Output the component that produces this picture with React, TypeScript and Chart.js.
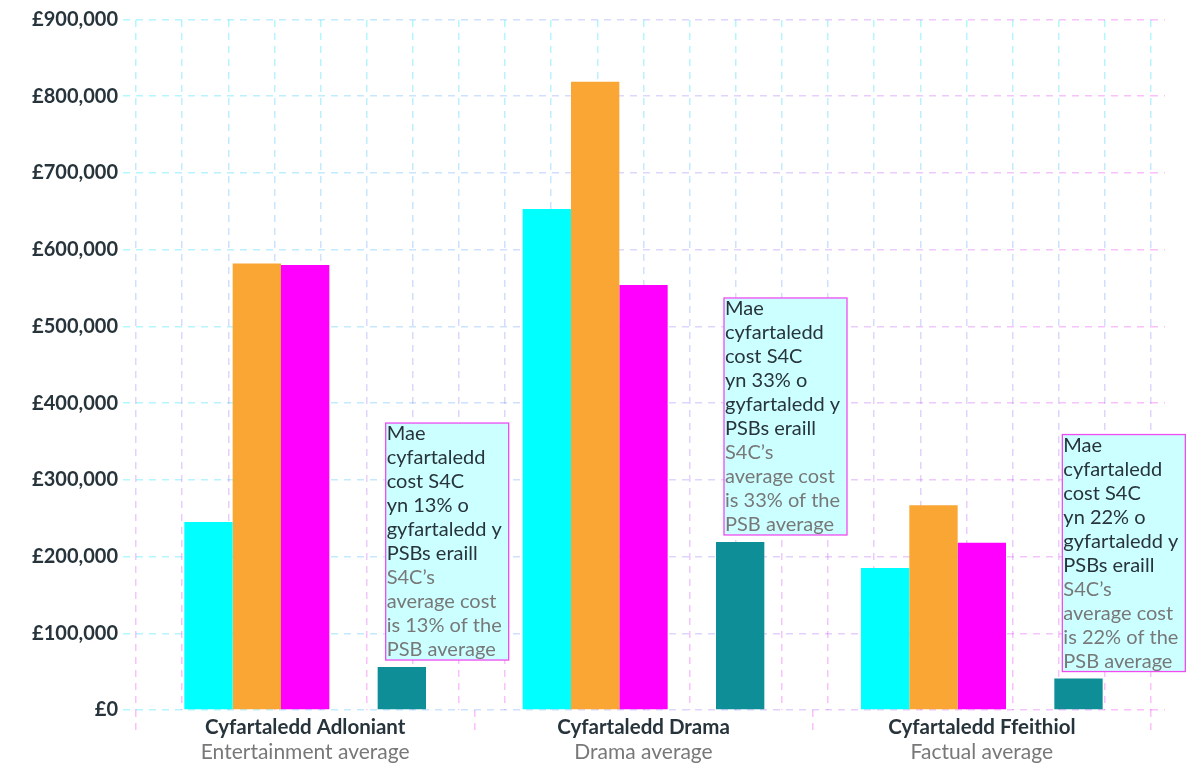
import React, { useEffect, useRef } from 'react';
import { Chart, registerables } from 'chart.js';

Chart.register(...registerables);

// ---- data ----
const categoriesCy = ['Cyfartaledd Adloniant', 'Cyfartaledd Drama', 'Cyfartaledd Ffeithiol'];
const categoriesEn = ['Entertainment average', 'Drama average', 'Factual average'];
const seriesLabels = ['PSB 1', 'PSB 2', 'PSB 3', '', 'S4C'];
const valuesCyan = [245000, 653000, 185000];
const valuesOrange = [582000, 819000, 267000];
const valuesMagenta = [580000, 554000, 218000];
const valuesSpacer = [null, null, null];
const valuesTeal = [56000, 219000, 41000];
const yMin = 0;
const yMax = 900000;
const yStep = 100000;
const notesCy = [
  ['Mae', 'cyfartaledd', 'cost S4C', 'yn 13% o', 'gyfartaledd y', 'PSBs eraill'],
  ['Mae', 'cyfartaledd', 'cost S4C', 'yn 33% o', 'gyfartaledd y', 'PSBs eraill'],
  ['Mae', 'cyfartaledd', 'cost S4C', 'yn 22% o', 'gyfartaledd y', 'PSBs eraill'],
];
const notesEn = [
  ['S4C\u2019s', 'average cost', 'is 13% of the', 'PSB average'],
  ['S4C\u2019s', 'average cost', 'is 33% of the', 'PSB average'],
  ['S4C\u2019s', 'average cost', 'is 22% of the', 'PSB average'],
];

// ---- styles ----
const FONT = 'Lato, "Open Sans", "DejaVu Sans", sans-serif';
const DARK = '#27343b';
const GREY = '#787878';
const CYAN_GRID = 'rgba(0,230,255,0.3)';
const MAGENTA_GRID = 'rgba(240,0,240,0.25)';
const DASH = [7, 6];

function hGrad(chart: any) {
  const a = chart.chartArea;
  if (!a) return CYAN_GRID;
  const g = chart.ctx.createLinearGradient(a.left, 0, a.right, 0);
  g.addColorStop(0, CYAN_GRID);
  g.addColorStop(1, MAGENTA_GRID);
  return g;
}
function vGrad(chart: any) {
  const a = chart.chartArea;
  if (!a) return CYAN_GRID;
  const g = chart.ctx.createLinearGradient(0, a.top, 0, a.bottom);
  g.addColorStop(0, CYAN_GRID);
  g.addColorStop(1, MAGENTA_GRID);
  return g;
}

const notePlugin = {
  id: 'notes',
  afterDatasetsDraw(chart: any) {
    const meta = chart.getDatasetMeta(4);
    const ctx = chart.ctx;
    meta.data.forEach((bar: any, i: number) => {
      const { x, y, width } = bar.getProps(['x', 'y', 'width'], true);
      const lines = [...notesCy[i], ...notesEn[i]];
      const w = 123;
      const h = lines.length * 24 - 3;
      const left = x - width / 2 + 8;
      const top = y - 7 - h;
      ctx.save();
      ctx.fillStyle = '#ccffff';
      ctx.fillRect(left, top, w, h);
      ctx.strokeStyle = '#ee4cf0';
      ctx.lineWidth = 1.3;
      ctx.strokeRect(left, top, w, h);
      ctx.font = `20px ${FONT}`;
      ctx.textBaseline = 'middle';
      ctx.textAlign = 'left';
      lines.forEach((t, k) => {
        ctx.fillStyle = k < notesCy[i].length ? DARK : GREY;
        ctx.fillText(t, left + 1, top + 11 + 24 * k);
      });
      ctx.restore();
    });
  },
};

export default function App() {
  const ref = useRef<HTMLCanvasElement>(null);
  useEffect(() => {
    if (!ref.current) return;
    Chart.defaults.font.family = FONT;
    const chart = new Chart(ref.current, {
      type: 'bar',
      data: {
        labels: categoriesCy,
        datasets: [
          { label: seriesLabels[0], data: valuesCyan, backgroundColor: '#00ffff' },
          { label: seriesLabels[1], data: valuesOrange, backgroundColor: '#f9a634' },
          { label: seriesLabels[2], data: valuesMagenta, backgroundColor: '#ff00ff' },
          { label: seriesLabels[3], data: valuesSpacer as any, backgroundColor: 'rgba(0,0,0,0)' },
          { label: seriesLabels[4], data: valuesTeal, backgroundColor: '#0e8e97' },
        ].map((d) => ({
          ...d,
          xAxisID: 'x',
          yAxisID: 'y',
          categoryPercentage: 5 / 7,
          barPercentage: 1,
          borderWidth: 0,
        })),
      },
      options: {
        animation: false,
        responsive: true,
        maintainAspectRatio: false,
        layout: { padding: { left: 0, right: 37, top: 19.5, bottom: 0 } },
        plugins: { legend: { display: false }, tooltip: { enabled: false } },
        scales: {
          y: {
            type: 'linear',
            position: 'left',
            min: yMin,
            max: yMax,
            ticks: {
              stepSize: yStep,
              padding: 5,
              color: DARK,
              font: { size: 20, weight: 'bold', family: FONT },
              callback: (v: any) => '\u00a3' + Number(v).toLocaleString('en-GB'),
            },
            grid: {
              color: (c: any) => hGrad(c.chart),
              lineWidth: 1.5,
              tickLength: 13,
              tickBorderDash: DASH,
            },
            border: { display: false, dash: DASH },
            afterFit: (s: any) => { s.width = 136; },
          },
          y2: {
            type: 'linear',
            position: 'right',
            min: yMin,
            max: yMax,
            ticks: { stepSize: yStep, display: false },
            grid: {
              drawOnChartArea: false,
              color: (c: any) => hGrad(c.chart),
              lineWidth: 1.5,
              tickLength: 14,
              tickBorderDash: DASH,
            },
            border: { display: false, dash: DASH },
            afterFit: (s: any) => { s.width = 14; },
          },
          xf: {
            type: 'linear',
            position: 'top',
            min: 0,
            max: 21,
            ticks: { display: false, stepSize: 1, maxTicksLimit: 40, autoSkip: false },
            grid: {
              color: (c: any) => vGrad(c.chart),
              lineWidth: 1.5,
              drawTicks: false,
            },
            border: { display: false, dash: DASH },
            afterFit: (s: any) => { s.height = 0; },
          },
          x: {
            type: 'category',
            position: 'bottom',
            weight: 0,
            offset: true,
            ticks: {
              autoSkip: false,
              maxRotation: 0,
              padding: -20,
              color: DARK,
              font: { size: 20.5, weight: 'bold', family: FONT },
            },
            grid: {
              offset: true,
              drawOnChartArea: false,
              drawTicks: true,
              tickLength: 25,
              color: (c: any) => vGrad(c.chart),
              tickColor: MAGENTA_GRID,
              lineWidth: 1.5,
              tickBorderDash: DASH,
            },
            border: { display: false },
            afterFit: (s: any) => { s.height = 30; },
          },
          xe: {
            type: 'category',
            position: 'bottom',
            weight: 1,
            labels: categoriesEn,
            offset: true,
            ticks: {
              autoSkip: false,
              maxRotation: 0,
              padding: 0,
              color: GREY,
              font: { size: 21, family: FONT },
            },
            grid: { display: false, drawTicks: false },
            border: { display: false },
            afterFit: (s: any) => { s.height = 25; },
          },
        } as any,
      },
      plugins: [notePlugin],
    } as any);
    return () => chart.destroy();
  }, []);

  return (
    <div style={{ position: 'fixed', left: 0, top: 0, width: 1202, height: 765, background: '#fff' }}>
      <canvas ref={ref} />
    </div>
  );
}
